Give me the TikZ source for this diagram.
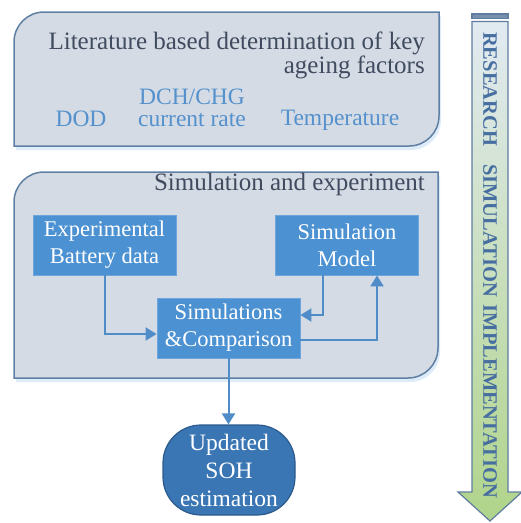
\documentclass[tikz,border=0pt]{standalone}
\usepackage{fontspec}
\setmainfont{LiberationSerif}[Extension=.ttf, UprightFont=*-Regular, BoldFont=*-Bold, ItalicFont=*-Italic, BoldItalicFont=*-BoldItalic]
\usetikzlibrary{arrows.meta,shadows,positioning}

\definecolor{panelfill}{RGB}{212,219,228}
\definecolor{panelline}{RGB}{95,128,165}
\definecolor{panelglow}{RGB}{214,230,246}
\definecolor{titletext}{RGB}{65,75,95}
\definecolor{factortext}{RGB}{85,145,205}
\definecolor{boxfill}{RGB}{76,145,210}
\definecolor{boxline}{RGB}{110,165,220}
\definecolor{sohfill}{RGB}{58,118,180}
\definecolor{sohline}{RGB}{45,90,140}
\definecolor{flowline}{RGB}{80,140,200}
\definecolor{arrowtop}{RGB}{226,234,242}
\definecolor{arrowbottom}{RGB}{176,212,138}
\definecolor{arrowline}{RGB}{95,125,160}
\definecolor{stagetext}{RGB}{70,110,160}

\tikzset{
  panel/.style={draw=panelline, line width=1.5pt, fill=panelfill,
    drop shadow={shadow xshift=2pt, shadow yshift=-4pt, fill=panelglow, opacity=0.8}},
  titlenode/.style={text=titletext, inner sep=0pt, align=right, font=\fontsize{25}{22}\selectfont},
  factornode/.style={text=factortext, inner sep=0pt, align=center, font=\fontsize{23.5}{22}\selectfont},
  simbox/.style={fill=boxfill, draw=boxline, line width=0.8pt, text=white, inner sep=0pt,
    minimum width=143pt, minimum height=60pt, align=center, font=\fontsize{22.5}{27}\selectfont},
  sohbox/.style={fill=sohfill, draw=sohline, line width=1.2pt, text=white, inner sep=0pt,
    minimum width=132pt, minimum height=90pt, rounded corners=38pt, align=center,
    font=\fontsize{23.5}{28}\selectfont},
  flow/.style={draw=flowline, line width=2pt, -{Triangle[width=13pt,length=11pt]}},
  stagearrow/.style={draw=arrowline, line width=1.2pt, top color=arrowtop, bottom color=arrowbottom},
}

\begin{document}
\begin{tikzpicture}[x=1pt,y=-1pt]
  \useasboundingbox (0,0) rectangle (521,523);

  %%%%% PANELS %%%%%
  \draw[panel] (14,146) -- (14,42) arc[start angle=180, end angle=270, radius=30]
    -- (439,12) -- (439,116) arc[start angle=0, end angle=90, radius=30] -- cycle;
  \draw[panel] (14,378) -- (14,202) arc[start angle=180, end angle=270, radius=30]
    -- (438,172) -- (438,348) arc[start angle=0, end angle=90, radius=30] -- cycle;

  \node[titlenode, anchor=north east] (littitle) at (425,32) {Literature based determination of key\\ageing factors};
  \node[factornode, anchor=base] (dod) at (81,126) {DOD};
  \node[factornode, anchor=north] (rate) at (192,89) {DCH/CHG\\current rate};
  \node[factornode, anchor=base] (temp) at (340,125) {Temperature};

  \node[titlenode, anchor=base east] (simtitle) at (425,190) {Simulation and experiment};

  %%%%% BOXES %%%%%
  \node[simbox] (expdata) at (104.5,245) {Experimental\\Battery data};
  \node[simbox] (simmodel) at (347,245) {Simulation\\Model};
  \node[simbox] (simcomp) at (228.5,328) {Simulations\\\&Comparison};
  \node[sohbox] (soh) at (229,470) {Updated\\SOH\\estimation};

  \draw[flow] (expdata.south) |- ([yshift=-6pt]simcomp.west);
  \draw[flow] ([xshift=-24pt]simmodel.south) |- ([yshift=13pt]simcomp.east);
  \draw[flow] ([yshift=-12pt]simcomp.east) -| ([xshift=30pt]simmodel.south);
  \draw[flow] (simcomp.south) -- (simcomp.south |- soh.north);

  %%%%% STAGE ARROW %%%%%
  \draw[draw=arrowline, line width=1.2pt, fill=arrowline!85] (472,14) rectangle (508,18.5);
  \draw[stagearrow] (472,21.5) -- (508,21.5) -- (508,492) -- (522,492) -- (490,521)
    -- (458,492) -- (472,492) -- cycle;
  \node[rotate=-90, text=stagetext, font=\fontsize{20.5}{22}\selectfont\bfseries] (stages) at (490,265)
    {RESEARCH\hspace{18pt}SIMULATION\hspace{8pt}IMPLEMENTATION};
\end{tikzpicture}
\end{document}
